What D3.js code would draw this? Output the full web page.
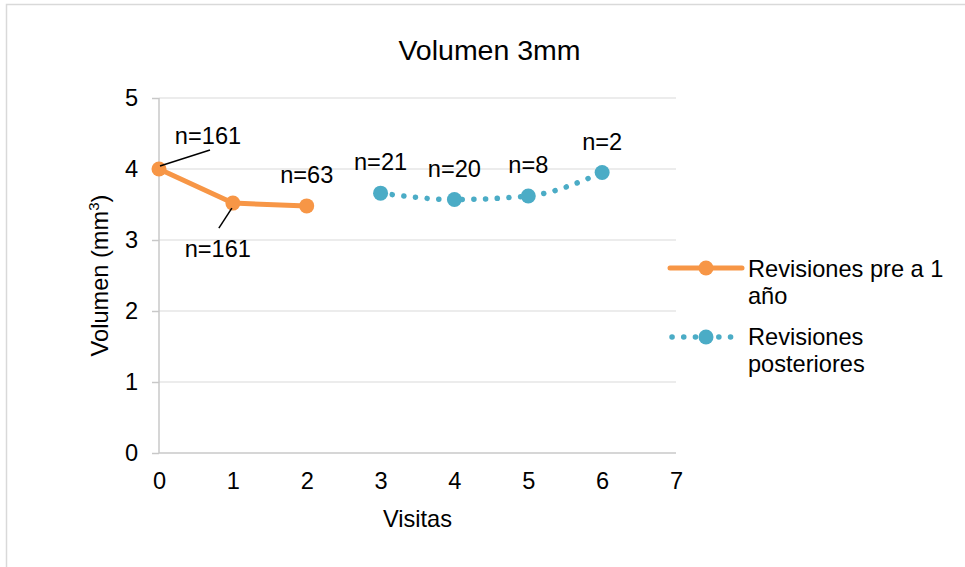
<!DOCTYPE html>
<html><head><meta charset="utf-8">
<script src="https://cdn.jsdelivr.net/npm/d3@7"></script>
<style>
html,body{margin:0;padding:0;background:#fff;}
text{font-family:"Liberation Sans",Arial,sans-serif;fill:#000;}
</style></head>
<body><svg id="c" width="965" height="567"></svg>
<script>
const title = "Volumen 3mm";
const xLabel = "Visitas";
const yTicks = [0, 1, 2, 3, 4, 5];
const xTicks = [0, 1, 2, 3, 4, 5, 6, 7];
const preVisits = [0, 1, 2];
const preValues = [4.00, 3.52, 3.48];
const preLabels = ["n=161", "n=161", "n=63"];
const postVisits = [3, 4, 5, 6];
const postValues = [3.66, 3.57, 3.62, 3.95];
const postLabels = ["n=21", "n=20", "n=8", "n=2"];
const seriesNames = [["Revisiones pre a 1", "año"], ["Revisiones", "posteriores"]];

const orange = "#F79646", blue = "#4BACC6";
const FS = 23.6;
const svg = d3.select("#c");

// chart frame
svg.append("rect").attr("x", 6.5).attr("y", 4.5).attr("width", 1000).attr("height", 700)
  .attr("fill", "none").attr("stroke", "#d9d9d9").attr("stroke-width", 1.5);

const L = 159, R = 676, T = 98, B = 453;
const x = d3.scaleLinear().domain([0, 7]).range([L, R]);
const y = d3.scaleLinear().domain([0, 5]).range([B, T]);

// gridlines
svg.append("g").selectAll("line").data(yTicks.filter(d => d > 0)).join("line")
  .attr("x1", L).attr("x2", R).attr("y1", d => y(d)).attr("y2", d => y(d))
  .attr("stroke", "#d9d9d9").attr("stroke-width", 1);

// y axis
const ya = svg.append("g").attr("transform", `translate(${L},0)`)
  .call(d3.axisLeft(y).tickValues(yTicks).tickSize(7).tickPadding(14).tickFormat(d3.format("d")));
ya.select(".domain").attr("stroke", "#c8c8c8").attr("stroke-width", 1.5).attr("d", `M0,${T}V${B}`);
ya.selectAll(".tick line").attr("stroke", "#c8c8c8").attr("stroke-width", 1.5);
ya.selectAll(".tick text").attr("font-size", FS).attr("font-family", "Liberation Sans").attr("fill", "#000");

// x axis
const xa = svg.append("g").attr("transform", `translate(0,${B})`)
  .call(d3.axisBottom(x).tickValues(xTicks).tickSize(0).tickPadding(19).tickFormat(d3.format("d")));
xa.select(".domain").attr("stroke", "#c8c8c8").attr("stroke-width", 1.5).attr("d", `M${L},0H${R}`);
xa.selectAll(".tick text").attr("font-size", FS).attr("font-family", "Liberation Sans").attr("fill", "#000");

// titles
svg.append("text").attr("x", 489.5).attr("y", 59.5).attr("text-anchor", "middle")
  .attr("font-size", 28.5).text(title);
svg.append("text").attr("x", (L + R) / 2).attr("y", 527).attr("text-anchor", "middle")
  .attr("font-size", FS).text(xLabel);
const yl = svg.append("text").attr("transform", `translate(108,${(T + B) / 2}) rotate(-90)`)
  .attr("text-anchor", "middle").attr("font-size", FS);
yl.append("tspan").text("Volumen (mm");
yl.append("tspan").attr("font-size", 15).attr("dy", -9).text("3");
yl.append("tspan").attr("dy", 9).text(")");

// series
const pre = preVisits.map((v, i) => ({x: v, y: preValues[i], n: preLabels[i]}));
const post = postVisits.map((v, i) => ({x: v, y: postValues[i], n: postLabels[i]}));
const line = d3.line().x(d => x(d.x)).y(d => y(d.y));

svg.append("path").datum(pre).attr("d", line).attr("fill", "none")
  .attr("stroke", orange).attr("stroke-width", 5).attr("stroke-linejoin", "round");
svg.append("g").selectAll("circle").data(pre).join("circle")
  .attr("cx", d => x(d.x)).attr("cy", d => y(d.y)).attr("r", 7.5).attr("fill", orange);

svg.append("path").datum(post).attr("d", d3.line().curve(d3.curveMonotoneX).x(d => x(d.x)).y(d => y(d.y)))
  .attr("fill", "none").attr("stroke", blue).attr("stroke-width", 5.5)
  .attr("stroke-linecap", "round").attr("stroke-dasharray", "0.1 11.6");
svg.append("g").selectAll("circle").data(post).join("circle")
  .attr("cx", d => x(d.x)).attr("cy", d => y(d.y)).attr("r", 7.5).attr("fill", blue);

// data labels (layout offsets: dx, dy from point, leader line)
const preOffsets = [{dx: 49, dy: -25, lead: [[1, -3], [51, -19]]}, {dx: -15, dy: 54, lead: [[-1, 5], [-14, 25]]}, {dx: 0, dy: -23}];
pre.forEach((d, i) => {
  const o = preOffsets[i], px = x(d.x), py = y(d.y);
  if (o.lead) svg.append("line").attr("x1", px + o.lead[0][0]).attr("y1", py + o.lead[0][1])
    .attr("x2", px + o.lead[1][0]).attr("y2", py + o.lead[1][1]).attr("stroke", "#000").attr("stroke-width", 1.5);
  svg.append("text").attr("x", px + o.dx).attr("y", py + o.dy).attr("text-anchor", "middle")
    .attr("font-size", FS).text(d.n);
});
post.forEach(d => {
  svg.append("text").attr("x", x(d.x)).attr("y", y(d.y) - 23).attr("text-anchor", "middle")
    .attr("font-size", FS).text(d.n);
});

// legend
const lg = svg.append("g");
lg.append("line").attr("x1", 670).attr("x2", 742).attr("y1", 268).attr("y2", 268)
  .attr("stroke", orange).attr("stroke-width", 5).attr("stroke-linecap", "round");
lg.append("circle").attr("cx", 706).attr("cy", 268).attr("r", 7.5).attr("fill", orange);
lg.append("line").attr("x1", 672).attr("x2", 742).attr("y1", 337).attr("y2", 337)
  .attr("stroke", blue).attr("stroke-width", 5.5).attr("stroke-linecap", "round").attr("stroke-dasharray", "0.1 11.6");
lg.append("circle").attr("cx", 706).attr("cy", 337).attr("r", 7.5).attr("fill", blue);
seriesNames.forEach((lines, i) => {
  const t = lg.append("text").attr("x", 748).attr("y", i === 0 ? 277 : 345).attr("font-size", FS);
  lines.forEach((s, j) => t.append("tspan").attr("x", 748).attr("dy", j === 0 ? 0 : 26.5).text(s));
});
</script></body></html>
